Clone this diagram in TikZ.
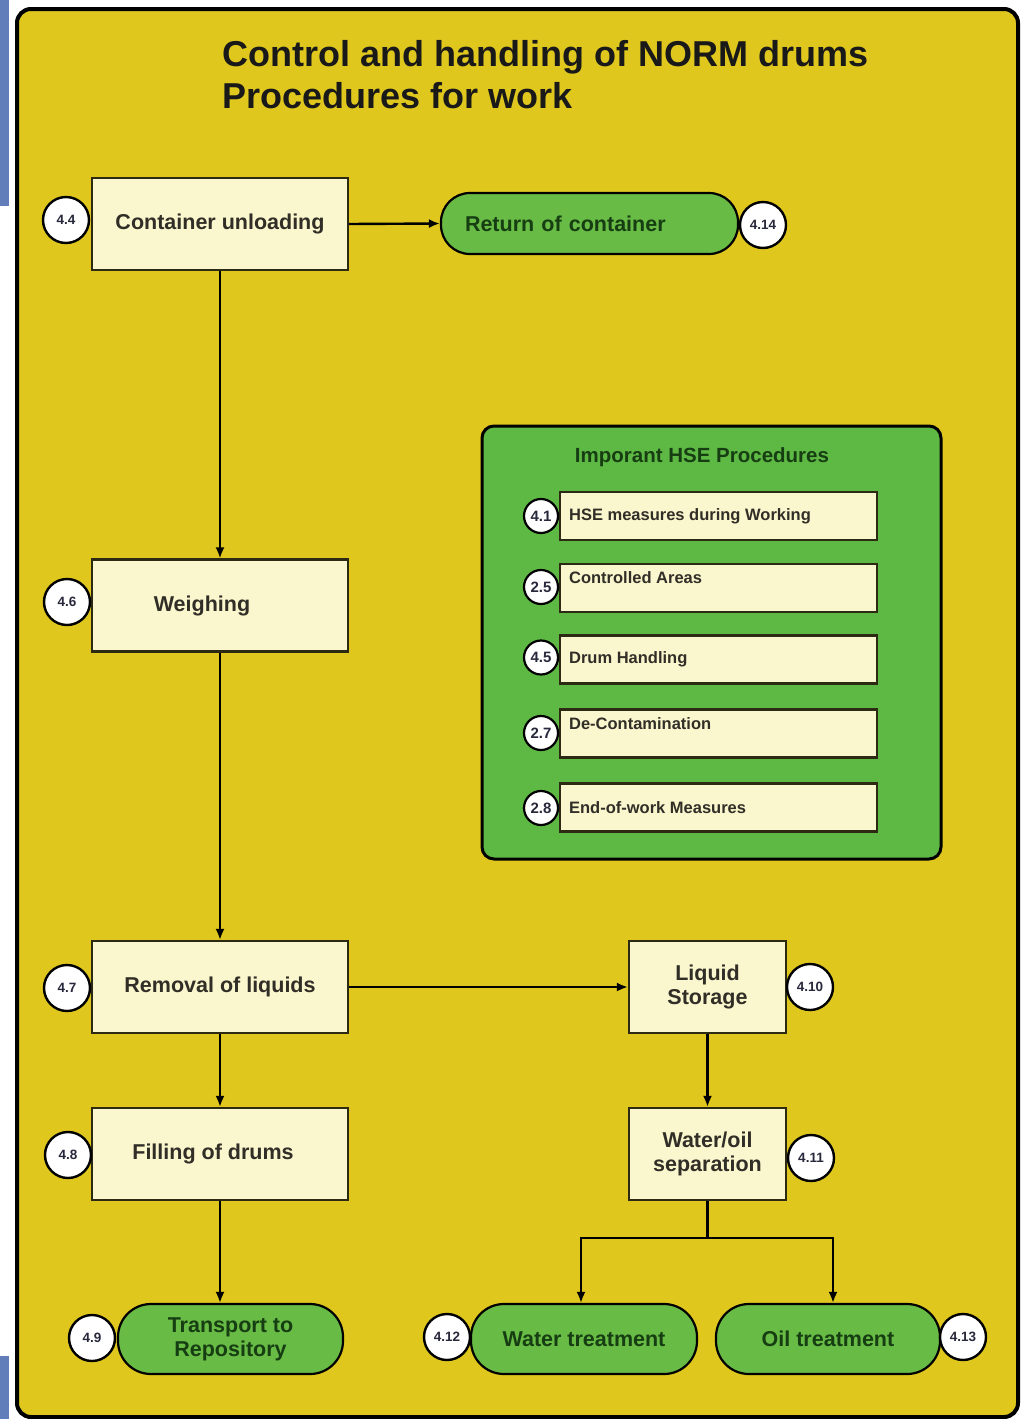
\documentclass[tikz,border=0pt]{standalone}
\usepackage{fontspec}
\setmainfont{Liberation Sans}
\usetikzlibrary{arrows.meta,calc}
\definecolor{yel}{RGB}{223,199,30}
\definecolor{cream}{RGB}{250,246,206}
\definecolor{pillgreen}{RGB}{104,187,69}
\definecolor{hsegreen}{RGB}{94,184,68}
\definecolor{dkgreen}{RGB}{22,62,18}
\definecolor{boxline}{RGB}{45,42,20}
\definecolor{txt}{RGB}{48,46,38}
\definecolor{numtxt}{RGB}{40,40,60}
\definecolor{bluestrip}{RGB}{98,126,186}
\tikzset{
  box/.style={draw=boxline, line width=2.2, fill=cream, minimum width=256, minimum height=92,
    inner sep=0, font=\fontsize{21.5}{24}\selectfont\bfseries, text=txt, align=center},
  pill/.style={draw=black, line width=2.2, fill=pillgreen, rounded corners=33, minimum height=70,
    inner sep=0, font=\fontsize{21.5}{24}\selectfont\bfseries, text=dkgreen, align=center},
  num/.style={circle, draw=black, line width=2.4, fill=white, minimum size=46, inner sep=0,
    font=\fontsize{13.5}{14}\selectfont\bfseries, text=numtxt},
  hnum/.style={circle, draw=black, line width=2.2, fill=white, minimum size=34, inner sep=0,
    font=\fontsize{15}{16}\selectfont\bfseries, text=numtxt},
  hbox/.style={draw=boxline, line width=2.2, fill=cream, minimum width=317, minimum height=48, inner sep=0},
  htext/.style={anchor=west, inner sep=0, font=\fontsize{16.5}{18}\selectfont\bfseries, text=txt},
  arr/.style={-{Latex[length=11,width=9]}, line width=2.4, draw=black},
  ttl/.style={anchor=base west, inner sep=0, font=\fontsize{36}{40}\selectfont\bfseries, text=black!90}
}
\begin{document}
\begin{tikzpicture}[x=1pt,y=-1pt]
\useasboundingbox (0,0) rectangle (1021,1419);
\fill[white] (0,0) rectangle (1021,1419);
\fill[bluestrip] (0,0) rectangle (9,206);
\fill[bluestrip] (0,1356) rectangle (9,1419);
\draw[line width=4, fill=yel, rounded corners=14] (17,9) rectangle (1018,1417);

% title
\node[ttl] (title1) at (222,66) {Control and handling of NORM drums};
\node[ttl] (title2) at (222,108) {Procedures for work};

% left column
\node[box] (cu) at (220,224) {Container unloading};
\node[box] (wg) at (220,605.5) {Weighing\hspace*{36pt}};
\node[box] (rl) at (220,987) {Removal of liquids};
\node[box] (fd) at (220,1154) {Filling of drums\hspace*{14pt}};
\node[pill, minimum width=225] (tr) at (230.5,1339) {Transport to\\Repository};

% right column
\node[pill, minimum width=297, minimum height=61, rounded corners=29, text width=249, align=left] (ret) at (589.5,223.5) {Return of container};
\node[box, minimum width=157] (ls) at (707.5,987) {Liquid\\Storage};
\node[box, minimum width=157] (wo) at (707.5,1154) {Water/oil\\separation};
\node[pill, minimum width=226] (wt) at (584,1339) {Water treatment};
\node[pill, minimum width=224] (ot) at (828,1339) {Oil treatment};

% numbers
\node[num] (n44) at (66,220) {4.4};
\node[num] (n414) at (763,225) {4.14};
\node[num] (n46) at (67,602) {4.6};
\node[num] (n47) at (67,988) {4.7};
\node[num] (n410) at (810,987) {4.10};
\node[num] (n48) at (68,1155) {4.8};
\node[num] (n411) at (811,1158) {4.11};
\node[num] (n49) at (92,1338) {4.9};
\node[num] (n412) at (447,1337) {4.12};
\node[num] (n413) at (963,1337) {4.13};

% connectors
\draw[arr] (cu.east) -- (ret.west);
\draw[arr] (cu.south) -- (wg.north);
\draw[arr] (wg.south) -- (rl.north);
\draw[arr] (rl.south) -- (fd.north);
\draw[arr] (fd.south) -- (fd.south |- tr.north);
\draw[arr] (rl.east) -- (ls.west);
\draw[arr] (ls.south) -- (wo.north);
\coordinate (split) at (707.5,1238);
\draw[line width=2.4] (wo.south) -- (split);
\draw[arr] (split) -| ([xshift=-3pt]wt.north);
\draw[arr] (split) -| ([xshift=5pt]ot.north);

% HSE panel
\node[draw=black, line width=3, fill=hsegreen, rounded corners=12, minimum width=459, minimum height=433, inner sep=0] (hse) at (711.5,642.5) {};
\node[inner sep=0, font=\fontsize{20.5}{22}\selectfont\bfseries, text=dkgreen] (hsetitle) at (702,457) {Imporant HSE Procedures};
\node[hbox] (h1) at (718.5,516) {};
\node[hbox] (h2) at (718.5,588) {};
\node[hbox] (h3) at (718.5,659.5) {};
\node[hbox] (h4) at (718.5,733.5) {};
\node[hbox] (h5) at (718.5,807.5) {};
\node[htext] (t1) at ([xshift=10pt]h1.west) {HSE measures during Working};
\node[htext] (t2) at ([xshift=10pt,yshift=10pt]h2.west) {Controlled Areas};
\node[htext] (t3) at ([xshift=10pt]h3.west) {Drum Handling};
\node[htext] (t4) at ([xshift=10pt,yshift=9.5pt]h4.west) {De-Contamination};
\node[htext] (t5) at ([xshift=10pt]h5.west) {End-of-work Measures};
\node[hnum] (c1) at (541,516) {4.1};
\node[hnum] (c2) at (541,587) {2.5};
\node[hnum] (c3) at (541,657.5) {4.5};
\node[hnum] (c4) at (541,733) {2.7};
\node[hnum] (c5) at (541,808) {2.8};
\end{tikzpicture}
\end{document}
